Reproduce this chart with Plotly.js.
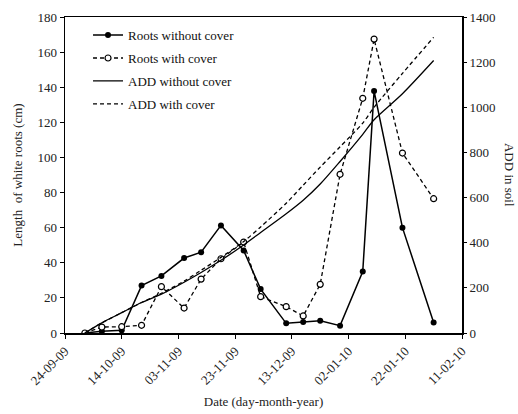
<!DOCTYPE html>
<html>
<head>
<meta charset="utf-8">
<script src="https://cdn.plot.ly/plotly-3.0.1.min.js"></script>
<style>
html,body{margin:0;padding:0;background:#fff;}
#chart{width:518px;height:414px;}
</style>
</head>
<body>
<div id="chart"></div>
<script>
// Sampling dates
const dates = ['2009-10-01','2009-10-07','2009-10-14','2009-10-21','2009-10-28','2009-11-05','2009-11-11','2009-11-18','2009-11-26','2009-12-02','2009-12-11','2009-12-17','2009-12-23','2009-12-30','2010-01-07','2010-01-11','2010-01-21','2010-02-01'];
// Length of white roots (cm)
const rootsWithoutCover = [0, 1, 1.5, 27, 32.5, 42.7, 46, 61.3, 47, 25, 5.5, 6.3, 7, 4.2, 35, 137.8, 60, 6];
const rootsWithCover    = [0, 3.4, 3.6, 4.4, 26.4, 14.2, 30.7, 42.3, 51.8, 20.7, 15, 9.7, 27.7, 90.4, 133.7, 167.4, 102.5, 76.5];
// ADD in soil
const addWithoutCover = [0, 45, 90, 135, 172, 225, 268, 322, 390, 445, 528, 588, 660, 760, 880, 945, 1060, 1207];
const addWithCover    = [0, 45, 90, 135, 176, 230, 278, 335, 405, 470, 575, 655, 735, 825, 930, 1000, 1150, 1310];
// Tick labels
const xTickVals = ['2009-09-24','2009-10-14','2009-11-03','2009-11-23','2009-12-13','2010-01-02','2010-01-22','2010-02-11'];
const xTickText = ['24-09-09','14-10-09','03-11-09','23-11-09','13-12-09','02-01-10','22-01-10','11-02-10'];

const FONT = "'Liberation Serif', 'Times New Roman', serif";

const traces = [
  {x: dates, y: addWithoutCover, name: 'ADD without cover', yaxis: 'y2', mode: 'lines', legendgroup: 'c', legendrank: 3,
   line: {color: '#000', width: 1.3, shape: 'spline', smoothing: 0.8}},
  {x: dates, y: addWithCover, name: 'ADD with cover', yaxis: 'y2', mode: 'lines', legendgroup: 'd', legendrank: 4,
   line: {color: '#000', width: 1.3, dash: '4px,3px', shape: 'spline', smoothing: 0.8}},
  {x: dates, y: rootsWithoutCover, name: 'Roots without cover', mode: 'lines+markers', legendgroup: 'a', legendrank: 1,
   line: {color: '#000', width: 1.5}, marker: {symbol: 'circle', size: 6, color: '#000'}},
  {x: dates, y: rootsWithCover, name: 'Roots with cover', mode: 'lines+markers', legendgroup: 'b', legendrank: 2,
   line: {color: '#000', width: 1.3, dash: '4px,3px'},
   marker: {symbol: 'circle', size: 6, color: '#fff', line: {color: '#000', width: 1.2}}}
];

const layout = {
  width: 518, height: 414,
  margin: {l: 65, r: 56, t: 17, b: 81},
  paper_bgcolor: '#fff', plot_bgcolor: '#fff',
  font: {family: FONT, size: 12, color: '#222'},
  showlegend: true,
  legend: {x: 0.058, y: 0.99, xanchor: 'left', yanchor: 'top', bgcolor: 'rgba(0,0,0,0)',
           font: {family: FONT, size: 13, color: '#111'}, traceorder: 'grouped', tracegroupgap: 3},
  xaxis: {
    type: 'date', range: ['2009-09-24', '2010-02-11'],
    tickvals: xTickVals, ticktext: xTickText, tickangle: -45,
    ticks: 'outside', ticklen: 4, tickcolor: '#000',
    showline: true, linecolor: '#000', linewidth: 1.5, mirror: true,
    showgrid: false, zeroline: false,
    tickfont: {family: FONT, size: 13, color: '#222'},
    title: {text: 'Date (day-month-year)', font: {family: FONT, size: 13, color: '#222'}, standoff: 10}
  },
  yaxis: {
    range: [0, 180], tickvals: [0,20,40,60,80,100,120,140,160,180],
    ticks: 'outside', ticklen: 4, tickcolor: '#000',
    showline: true, linecolor: '#000', linewidth: 1.5, mirror: true,
    showgrid: false, zeroline: false,
    tickfont: {family: FONT, size: 13, color: '#222'},
    title: {text: 'Length  of white roots (cm)', font: {family: FONT, size: 13, color: '#222'}, standoff: 12}
  },
  yaxis2: {
    overlaying: 'y', side: 'right', range: [0, 1400],
    tickvals: [0,200,400,600,800,1000,1200,1400],
    ticks: 'outside', ticklen: 4, tickcolor: '#000',
    showline: false, showgrid: false, zeroline: false,
    tickfont: {family: FONT, size: 13, color: '#222'}
  },
  annotations: [
    {text: 'ADD in soil', xref: 'paper', yref: 'paper', x: 1.121, y: 0.5, showarrow: false,
     textangle: 90, font: {family: FONT, size: 13, color: '#222'}, xanchor: 'center', yanchor: 'middle'}
  ]
};

Plotly.newPlot('chart', traces, layout, {displayModeBar: false, staticPlot: true});
</script>
</body>
</html>
